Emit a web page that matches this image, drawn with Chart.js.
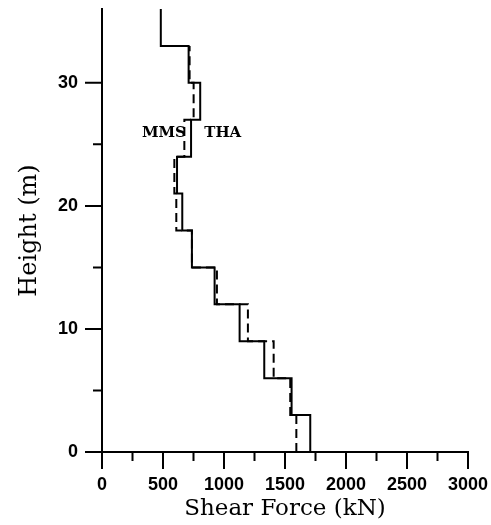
<!DOCTYPE html>
<html><head><meta charset="utf-8">
<script src="https://cdn.jsdelivr.net/npm/chart.js@4/dist/chart.umd.min.js"></script>
<style>html,body{margin:0;padding:0;background:#fff}#wrap{width:491px;height:525px;position:relative}</style>
</head><body><div id="wrap"><canvas id="c"></canvas></div>
<script>
// Storey boundary heights (m)
const storeyLevels = [0, 3, 6, 9, 12, 15, 18, 21, 24, 27, 30, 33, 36];
// Storey shear force (kN), from bottom storey upward
const mmsForces = [1707, 1554, 1330, 1128, 923, 737, 658, 615, 730, 805, 710, 482];
const thaForces = [1593, 1543, 1407, 1196, 942, 737, 609, 593, 675, 751, 718];
const seriesNames = ['MMS', 'THA'];
const xMajorLabels = ['0', '500', '1000', '1500', '2000', '2500', '3000'];
const yMajorLabels = ['0', '10', '20', '30'];

function stepPoints(forces) {
  const pts = [];
  forces.forEach((f, i) => {
    pts.push({x: f, y: storeyLevels[i]});
    pts.push({x: f, y: storeyLevels[i + 1]});
  });
  return pts;
}

const tickMarks = {
  id: 'tickMarks',
  afterDraw(chart) {
    const {ctx, scales: {x, y}} = chart;
    ctx.save();
    ctx.strokeStyle = '#000';
    ctx.lineWidth = 2;
    ctx.beginPath();
    x.ticks.forEach(t => {
      const px = x.getPixelForValue(t.value);
      const len = (t.value % 500 === 0) ? 17 : 9;
      ctx.moveTo(px, y.bottom); ctx.lineTo(px, y.bottom + len);
    });
    y.ticks.forEach(t => {
      if (t.value % 5 !== 0) return;
      const py = y.getPixelForValue(t.value);
      const len = (t.value % 10 === 0) ? 17 : 9;
      ctx.moveTo(x.left, py); ctx.lineTo(x.left - len, py);
    });
    ctx.stroke();
    // series labels
    ctx.fillStyle = '#000';
    ctx.font = 'bold 15px "DejaVu Serif", serif';
    ctx.textBaseline = 'middle';
    ctx.textAlign = 'right';
    ctx.fillText(seriesNames[0], x.getPixelForValue(688), y.getPixelForValue(25.9));
    ctx.textAlign = 'left';
    ctx.fillText(seriesNames[1], x.getPixelForValue(838), y.getPixelForValue(25.9));
    ctx.restore();
  }
};

new Chart(document.getElementById('c'), {
  type: 'line',
  data: {
    datasets: [
      {label: seriesNames[1], data: stepPoints(thaForces), borderColor: '#000', borderWidth: 2,
       borderDash: [9, 5], pointRadius: 0, tension: 0, fill: false},
      {label: seriesNames[0], data: stepPoints(mmsForces), borderColor: '#000', borderWidth: 2,
       pointRadius: 0, tension: 0, fill: false}
    ]
  },
  options: {
    animation: false,
    responsive: true,
    maintainAspectRatio: false,
    devicePixelRatio: 1,
    layout: {padding: {top: 9, right: 23, bottom: 0, left: 0}},
    plugins: {legend: {display: false}, tooltip: {enabled: false}},
    scales: {
      x: {
        type: 'linear', min: 0, max: 3000,
        grid: {display: false, drawTicks: false},
        border: {display: true, color: '#000', width: 2},
        ticks: {
          stepSize: 250, padding: 22, color: '#000', maxRotation: 0, minRotation: 0, autoSkip: false,
          font: {family: '"Liberation Sans", Arial, sans-serif', size: 18, weight: 'bold'},
          callback: v => (v % 500 === 0) ? xMajorLabels[v / 500] : ''
        },
        title: {display: true, text: 'Shear Force (kN)', color: '#000',
          font: {family: '"DejaVu Serif", serif', size: 23}, padding: {top: 0, bottom: 2}},
        afterFit: s => { s.height = 73; s.paddingLeft = 0; s.paddingRight = 0; }
      },
      y: {
        type: 'linear', min: 0, max: 36,
        grid: {display: false, drawTicks: false},
        border: {display: true, color: '#000', width: 2},
        ticks: {
          stepSize: 5, padding: 24, color: '#000', autoSkip: false,
          font: {family: '"Liberation Sans", Arial, sans-serif', size: 18, weight: 'bold'},
          callback: v => (v % 10 === 0) ? yMajorLabels[v / 10] : ''
        },
        title: {display: true, text: 'Height (m)', color: '#000',
          font: {family: '"DejaVu Serif", serif', size: 24}, padding: {top: 15, bottom: 0}},
        afterFit: s => { s.width = 102; s.paddingTop = 0; s.paddingBottom = 0; }
      }
    }
  },
  plugins: [tickMarks]
});
</script></body></html>
